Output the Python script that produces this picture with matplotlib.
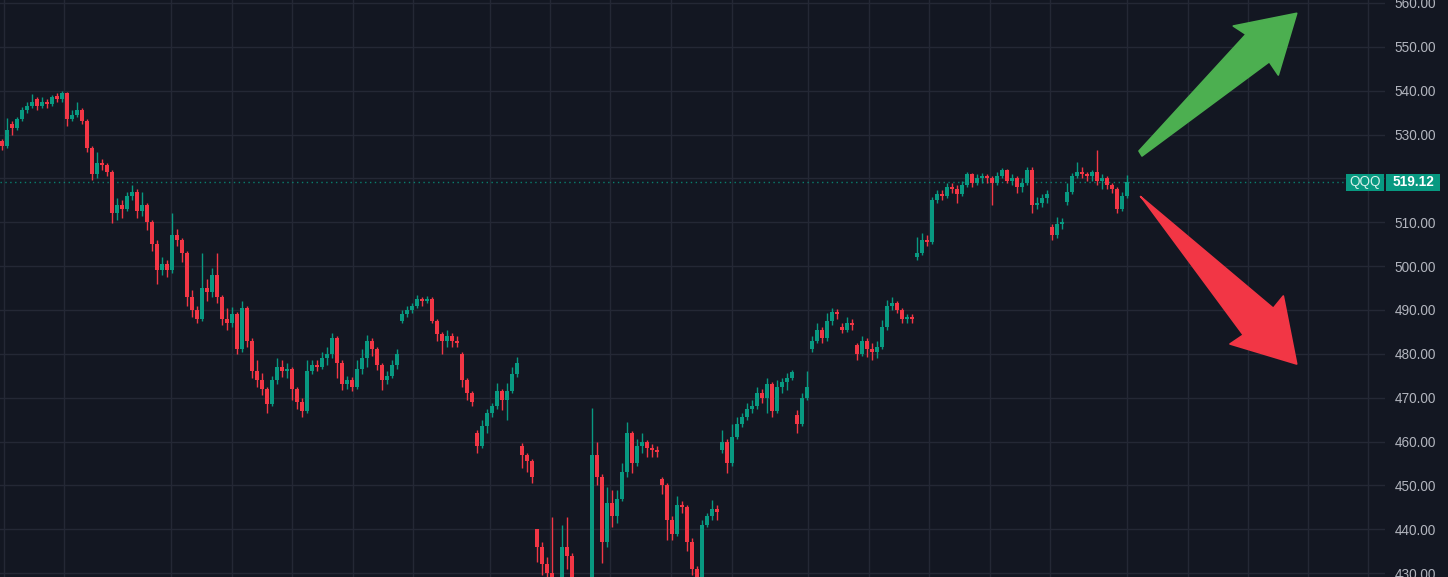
import numpy as np
import matplotlib
matplotlib.use("Agg")
import matplotlib.pyplot as plt
import matplotlib.transforms as mtransforms
from matplotlib.patches import Polygon, Rectangle

plt.rcParams['font.family'] = ['Liberation Sans', 'DejaVu Sans']

# QQQ candles, one every 5 px
opens = [
    528.5, 527.5, 532.5, 531.5, 533.5, 535.5, 536.5, 538.0, 536.5, 537.5,
    537.0, 538.8, 538.0, 539.5, 533.5, 534.5, 535.5, 533.0, 527.0, 521.0,
    523.5, 523.0, 521.5, 512.0, 514.0, 513.0, 516.0, 517.0, 512.5, 514.0,
    510.0, 505.0, 499.0, 500.5, 499.0, 507.0, 506.0, 503.0, 493.0, 490.0,
    488.0, 495.0, 494.0, 498.0, 493.0, 488.0, 487.0, 489.0, 481.0, 490.5,
    483.0, 476.0, 474.0, 472.0, 468.5, 474.0, 477.0, 476.0, 476.5, 472.0,
    469.0, 467.0, 476.0, 477.5, 477.0, 479.0, 480.0, 483.5, 478.0, 473.0,
    474.0, 472.5, 476.5, 479.0, 483.0, 481.0, 477.5, 474.0, 475.0, 477.5,
    487.5, 489.0, 490.0, 491.0, 492.5, 492.0, 492.5, 487.5, 484.5, 483.0,
    484.0, 483.0, 480.0, 474.0, 471.0, 462.0, 459.0, 463.5, 466.5, 468.0,
    471.5, 469.5, 471.5, 475.5, 459.0, 457.0, 455.5, 440.0, 436.0, 432.0,
    430.0, 428.0, 426.0, 436.0, 434.0, 428.0, 425.0, 424.0, 426.0, 457.0,
    452.0, 437.0, 446.0, 443.0, 447.0, 453.0, 462.0, 455.0, 459.0, 460.0,
    458.5, 458.0, 451.5, 450.0, 442.0, 439.0, 445.5, 445.0, 437.0, 431.0,
    428.0, 441.0, 443.0, 444.5, 458.0, 460.0, 455.0, 461.0, 464.0, 465.5,
    467.5, 468.0, 471.0, 470.0, 473.0, 467.0, 472.5, 473.5, 474.5, 466.0,
    464.0, 470.0, 481.0, 483.0, 485.5, 483.5, 487.5, 489.5, 486.0, 485.5,
    487.0, 482.0, 480.0, 483.0, 481.0, 480.5, 481.5, 486.0, 491.0, 491.5,
    490.0, 488.0, 488.5, 502.0, 503.0, 506.0, 505.5, 515.0, 516.5, 516.0,
    518.0, 517.5, 516.5, 518.5, 521.0, 519.0, 520.0, 520.5, 520.0, 519.0,
    520.5, 522.0, 519.5, 520.0, 518.0, 519.0, 522.0, 514.0, 514.5, 515.5,
    509.0, 507.0, 509.5, 514.6, 517.0, 520.5, 521.5, 521.0, 520.5, 521.5,
    519.5, 520.0, 518.5, 517.5, 513.0, 516.0,
]
highs = [
    529.0, 533.8, 533.0, 534.0, 536.3, 537.5, 539.2, 538.5, 538.5, 538.2,
    539.0, 539.5, 540.0, 539.8, 535.5, 537.5, 536.0, 533.5, 527.5, 526.0,
    524.5, 523.5, 522.0, 515.5, 515.0, 517.0, 518.5, 517.5, 517.0, 514.5,
    510.5, 506.0, 502.0, 501.5, 512.0, 508.5, 506.5, 503.5, 494.5, 491.0,
    503.0, 497.0, 499.5, 503.0, 493.5, 490.5, 490.6, 489.5, 492.0, 491.0,
    483.5, 478.6, 475.6, 472.5, 475.0, 479.0, 478.5, 478.0, 477.0, 472.5,
    470.0, 478.6, 478.6, 478.5, 480.5, 481.5, 484.7, 484.0, 478.5, 475.0,
    474.7, 478.6, 481.0, 484.3, 483.5, 481.5, 478.0, 476.0, 478.6, 481.0,
    490.0, 491.0, 491.6, 493.4, 493.0, 493.2, 493.0, 488.0, 485.0, 485.5,
    484.7, 484.0, 480.5, 474.5, 471.5, 462.6, 465.0, 467.5, 468.8, 473.3,
    472.0, 473.3, 477.0, 479.3, 459.7, 457.4, 456.0, 440.0, 437.0, 433.7,
    442.8, 429.0, 441.0, 442.8, 434.5, 429.0, 426.5, 427.5, 467.6, 460.0,
    452.5, 449.7, 449.0, 449.0, 455.0, 464.5, 462.5, 460.5, 462.0, 460.3,
    459.5, 459.0, 451.9, 450.5, 443.0, 447.5, 446.5, 445.5, 438.0, 431.5,
    442.0, 443.7, 446.6, 445.5, 462.6, 460.5, 464.0, 465.6, 466.5, 468.8,
    469.5, 472.4, 472.0, 474.5, 473.5, 474.0, 474.5, 475.6, 476.3, 467.2,
    471.0, 476.0, 484.0, 487.0, 486.0, 489.3, 490.4, 490.2, 487.0, 488.4,
    488.0, 482.5, 484.0, 483.5, 482.5, 483.0, 487.7, 492.3, 493.0, 492.0,
    490.5, 489.0, 489.0, 506.6, 507.5, 507.0, 515.8, 517.3, 517.3, 519.0,
    519.0, 518.5, 519.5, 521.5, 521.2, 521.0, 521.2, 521.0, 520.5, 521.5,
    522.4, 522.2, 521.0, 520.5, 520.0, 522.6, 522.5, 515.8, 516.5, 517.3,
    509.5, 511.2, 511.0, 519.0, 521.2, 523.8, 522.5, 521.5, 522.0, 526.5,
    521.0, 520.5, 519.0, 518.0, 517.0, 520.8,
]
lows = [
    526.5, 527.0, 530.0, 531.0, 533.0, 535.0, 536.0, 535.5, 536.0, 536.0,
    536.5, 537.5, 537.5, 532.0, 533.0, 534.0, 532.5, 526.0, 519.6, 520.0,
    522.0, 520.5, 509.8, 510.5, 511.0, 512.5, 515.0, 511.0, 511.5, 508.2,
    503.5, 496.0, 498.0, 497.5, 498.5, 504.5, 501.0, 491.0, 488.5, 487.0,
    487.5, 492.0, 493.0, 491.5, 486.5, 485.4, 486.0, 480.0, 480.5, 481.5,
    474.5, 472.4, 470.5, 466.5, 468.0, 473.0, 474.7, 474.5, 469.5, 467.5,
    465.6, 466.5, 475.5, 476.0, 476.5, 477.5, 479.0, 474.5, 471.7, 472.0,
    471.5, 472.0, 475.5, 477.0, 479.5, 476.3, 471.7, 473.0, 474.5, 476.5,
    487.0, 488.5, 489.3, 490.5, 491.0, 491.5, 487.0, 483.0, 480.0, 481.5,
    481.5, 481.5, 472.4, 469.5, 468.0, 457.4, 458.5, 462.0, 465.6, 467.5,
    467.2, 465.0, 471.0, 474.7, 454.0, 453.0, 450.5, 432.6, 429.5, 428.0,
    426.0, 424.0, 425.0, 431.0, 426.0, 423.0, 422.0, 423.0, 425.0, 450.0,
    432.4, 436.0, 440.5, 441.4, 446.5, 452.0, 452.8, 454.5, 457.4, 456.5,
    456.5, 456.5, 448.0, 437.5, 437.5, 438.5, 443.7, 435.0, 429.5, 426.5,
    427.5, 440.5, 442.0, 442.0, 457.4, 452.8, 454.5, 460.5, 463.3, 465.0,
    466.5, 467.5, 468.8, 466.5, 465.6, 466.5, 471.0, 471.7, 474.0, 462.0,
    463.5, 469.5, 480.5, 482.5, 482.5, 483.0, 486.5, 488.0, 484.7, 485.0,
    485.4, 478.6, 479.5, 479.3, 478.6, 479.0, 481.0, 485.5, 490.0, 489.3,
    487.0, 487.0, 487.0, 501.5, 502.5, 504.5, 505.0, 514.4, 515.0, 515.5,
    516.7, 514.5, 516.0, 518.0, 518.0, 518.5, 519.0, 519.0, 514.0, 518.5,
    520.0, 519.0, 518.5, 516.7, 517.0, 518.5, 512.0, 513.0, 513.5, 514.5,
    506.0, 506.5, 508.5, 514.0, 516.5, 520.0, 520.0, 519.5, 519.5, 518.5,
    517.5, 517.5, 516.7, 512.0, 512.5, 515.5,
]
closes = [
    527.5, 531.0, 531.5, 533.5, 535.5, 536.5, 537.5, 536.5, 537.5, 537.0,
    538.5, 538.0, 539.5, 533.5, 534.5, 535.5, 533.0, 527.0, 521.0, 523.5,
    523.0, 521.5, 512.0, 514.0, 513.0, 516.0, 517.0, 512.5, 514.0, 510.0,
    505.0, 499.0, 500.5, 499.0, 507.0, 506.0, 503.0, 493.0, 490.0, 488.0,
    495.0, 494.0, 498.0, 493.0, 488.0, 487.0, 489.0, 481.0, 490.5, 483.0,
    476.0, 474.0, 472.0, 468.5, 474.0, 477.0, 476.0, 476.5, 472.0, 469.0,
    467.0, 476.0, 477.5, 477.0, 479.0, 480.0, 483.5, 478.0, 473.0, 474.0,
    472.5, 476.5, 479.0, 483.0, 481.0, 477.5, 474.0, 475.0, 477.5, 480.0,
    489.0, 490.0, 491.0, 492.5, 492.0, 492.5, 487.5, 484.5, 483.0, 484.0,
    483.0, 482.5, 474.0, 471.0, 469.0, 459.0, 463.5, 466.5, 468.0, 471.5,
    469.5, 471.5, 475.5, 478.0, 457.0, 455.5, 452.0, 436.0, 432.0, 430.0,
    428.0, 426.0, 436.0, 434.0, 428.0, 425.0, 424.0, 426.0, 457.0, 452.0,
    437.0, 446.0, 443.0, 447.0, 453.0, 462.0, 455.0, 459.0, 460.0, 458.5,
    458.0, 457.5, 450.0, 442.0, 439.0, 445.5, 445.0, 437.0, 431.0, 428.0,
    441.0, 443.0, 444.5, 444.0, 460.0, 455.0, 461.0, 464.0, 465.5, 467.5,
    468.0, 471.0, 470.0, 473.0, 467.0, 472.5, 473.5, 474.5, 475.8, 464.0,
    470.0, 472.5, 483.0, 485.5, 483.5, 487.5, 489.5, 489.0, 485.5, 487.0,
    486.5, 480.0, 483.0, 481.0, 480.5, 481.5, 486.0, 491.0, 491.5, 490.0,
    488.0, 488.5, 488.0, 503.0, 506.0, 505.5, 515.0, 516.5, 516.0, 518.0,
    517.5, 516.5, 518.5, 521.0, 519.0, 520.0, 520.5, 520.0, 519.0, 520.5,
    522.0, 519.5, 520.0, 518.0, 519.0, 522.0, 514.0, 514.5, 515.5, 516.5,
    507.0, 509.5, 510.0, 517.0, 520.5, 521.5, 521.0, 520.5, 521.5, 519.5,
    520.0, 518.5, 517.5, 513.0, 516.0, 519.12,
]

symbol = "QQQ"
price_levels = list(range(430, 561, 10))
# month separators, in candle-index units
grid_x = [0.4, 12.4, 33.8, 46.0, 58.0, 70.2, 82.2, 97.6, 109.6, 121.6, 133.8,
          146.0, 161.2, 173.4, 185.4, 197.6, 209.6, 225.0, 237.2, 249.2,
          261.2, 273.2]

# Hand-drawn arrows (candle index, price)
up_arrow = [(227.4, 526.25), (248.8, 552.86), (246.26, 554.75), (258.94, 557.65),
            (255.26, 543.58), (253.46, 546.61), (228.0, 525.11)]
down_arrow = [(227.7, 515.87), (254.26, 490.38), (256.26, 493.18), (258.94, 477.67),
              (245.6, 482.24), (248.26, 484.29), (228.3, 515.07)]

BG = '#131722'
GRID = '#242835'
UP = '#089981'
DOWN = '#F23645'

o = np.array(opens)
h = np.array(highs)
l = np.array(lows)
c = np.array(closes)
idx = np.arange(len(c))
colors = np.where(c >= o, UP, DOWN)

W, H = 1448, 577
fig = plt.figure(figsize=(W / 100, H / 100), dpi=100, facecolor=BG)
ax = fig.add_axes([0, 0, 1385 / W, 1])
ax.set_facecolor(BG)

# Candles
ax.vlines(idx, l, h, colors=colors, linewidth=1, zorder=2)
body = np.maximum(np.abs(c - o), 0.25)
ax.bar(idx, body, bottom=np.minimum(o, c), width=0.72, color=colors,
       linewidth=0, zorder=3)

# Last price line
last = closes[-1]
ax.axhline(last, xmax=1346 / 1385, color=UP, linewidth=1,
           linestyle=(0, (1, 2.5)), alpha=0.8, zorder=1)

# Arrows
ax.add_patch(Polygon(up_arrow, closed=True, facecolor='#4CAF50',
                     edgecolor='#4CAF50', linewidth=1.2, joinstyle='round', zorder=5))
ax.add_patch(Polygon(down_arrow, closed=True, facecolor=DOWN,
                     edgecolor=DOWN, linewidth=1.2, joinstyle='round', zorder=5))

ax.set_xlim(-0.4, 276.6)
ax.set_ylim(429.10, 560.684)

ax.set_xticks(grid_x)
ax.set_xticklabels([])
ax.set_yticks(price_levels)
ax.set_yticklabels([f"{v:.2f}" for v in price_levels])
ax.yaxis.tick_right()
ax.tick_params(axis='x', length=0)
ax.tick_params(axis='y', length=0, pad=7, labelsize=9.8, labelcolor='#b2b5be')
ax.grid(True, color=GRID, linewidth=1)
ax.set_axisbelow(True)
for s in ax.spines.values():
    s.set_visible(False)

# Symbol / last price badge on the price scale
trans = mtransforms.blended_transform_factory(fig.transFigure, ax.transData)
half = 1.98
fig.add_artist(Rectangle((1346 / W, last - half), 38 / W, 2 * half,
                         transform=trans, facecolor=UP, edgecolor='none', zorder=6))
fig.add_artist(Rectangle((1386 / W, last - half), 54 / W, 2 * half,
                         transform=trans, facecolor=UP, edgecolor='none', zorder=6))
fig.text(1365 / W, last, symbol, transform=trans, ha='center', va='center',
         fontsize=9.8, color='#d8f0ea', zorder=7)
fig.text(1413 / W, last, f"{last:.2f}", transform=trans, ha='center', va='center',
         fontsize=9.8, color='white', fontweight='bold', zorder=7)

fig.savefig("out.png", dpi=100, facecolor=BG)
